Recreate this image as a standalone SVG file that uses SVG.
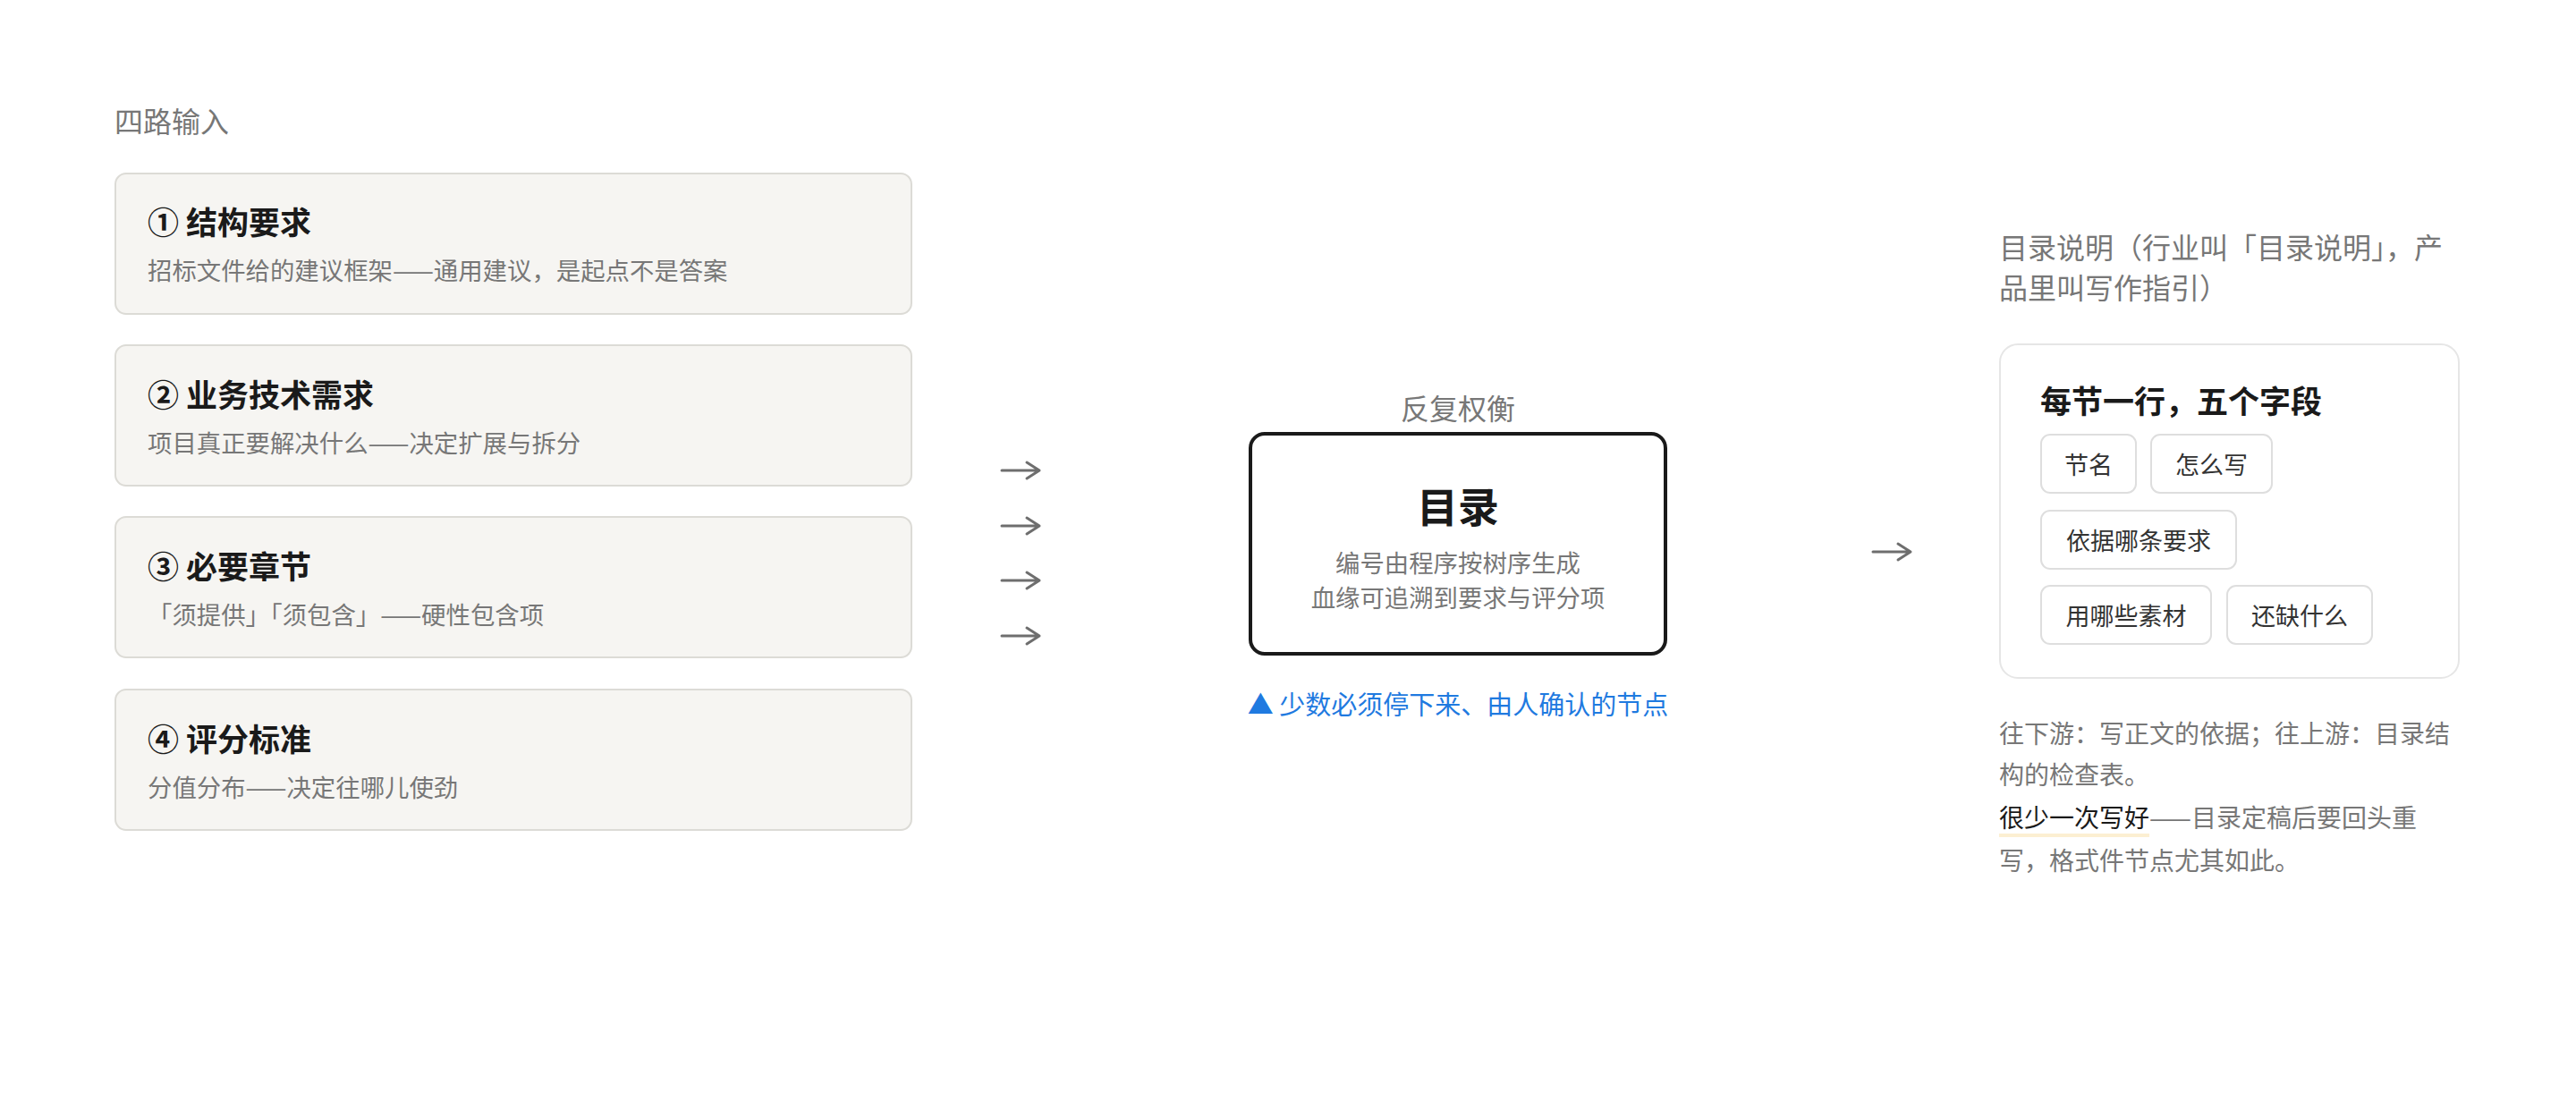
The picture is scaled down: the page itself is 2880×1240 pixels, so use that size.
<svg xmlns="http://www.w3.org/2000/svg" width="2880" height="1240" viewBox="0 0 2880 1240">
<style>
text{font-family:"Noto Sans CJK SC","Noto Sans",sans-serif;dominant-baseline:central}
.lbl{font-size:32px;fill:#777}
.inbox{fill:#f6f5f2;stroke:#dcdbd6;stroke-width:2}
.ttl{font-size:35px;font-weight:700;fill:#1a1a1a}
.sub{font-size:27.4px;fill:#777}
.tag{fill:#fff;stroke:#dedede;stroke-width:2}
.tagt{font-size:27px;fill:#333;text-anchor:middle}
.note{font-size:28px;fill:#777}
.arr{fill:none;stroke:#6e6e6e;stroke-width:3;stroke-linecap:round;stroke-linejoin:round}
</style>
<rect width="2880" height="1240" fill="#fff"/>
<text id="inputs-label" class="lbl" x="128" y="134">四路输入</text>
<g id="in1"><rect class="inbox" x="129" y="194" width="890" height="157" rx="12"/><text class="ttl" x="165" y="246">① 结构要求</text><text class="sub" x="165" y="301">招标文件给的建议框架——通用建议，是起点不是答案</text></g>
<g id="in2"><rect class="inbox" x="129" y="386" width="890" height="157" rx="12"/><text class="ttl" x="165" y="439">② 业务技术需求</text><text class="sub" x="165" y="494">项目真正要解决什么——决定扩展与拆分</text></g>
<g id="in3"><rect class="inbox" x="129" y="578" width="890" height="157" rx="12"/><text class="ttl" x="165" y="631">③ 必要章节</text><text class="sub" x="165" y="686">「须提供」「须包含」——硬性包含项</text></g>
<g id="in4"><rect class="inbox" x="129" y="771" width="890" height="157" rx="12"/><text class="ttl" x="165" y="824">④ 评分标准</text><text class="sub" x="165" y="879">分值分布——决定往哪儿使劲</text></g>
<g id="connectors">
<path class="arr" d="M1120 526H1162M1148 517L1162 526L1148 535"/>
<path class="arr" d="M1120 588H1162M1148 579L1162 588L1148 597"/>
<path class="arr" d="M1120 649H1162M1148 640L1162 649L1148 658"/>
<path class="arr" d="M1120 711H1162M1148 702L1162 711L1148 720"/>
<path class="arr" d="M2094 617H2136M2122 608L2136 617L2122 626"/>
</g>
<g id="toc">
<text class="lbl" x="1630" y="455" text-anchor="middle">反复权衡</text>
<rect x="1398" y="485" width="464" height="246" rx="16" fill="#fff" stroke="#1a1a1a" stroke-width="4"/>
<text x="1630" y="564" text-anchor="middle" style="font-size:46px;font-weight:700;fill:#1a1a1a">目录</text>
<text class="sub" x="1630" y="628" text-anchor="middle">编号由程序按树序生成</text>
<text class="sub" x="1630" y="667" text-anchor="middle">血缘可追溯到要求与评分项</text>
<text x="1630" y="786" text-anchor="middle" style="font-size:29px;fill:#1f7ae0">▲ 少数必须停下来、由人确认的节点</text>
</g>
<g id="guide">
<text class="lbl" x="2235" y="275">目录说明（行业叫「目录说明」，产</text>
<text class="lbl" x="2235" y="320">品里叫写作指引）</text>
<rect x="2236" y="385" width="513" height="373" rx="20" fill="#fff" stroke="#e6e6e6" stroke-width="2"/>
<text class="ttl" x="2281" y="446">每节一行，五个字段</text>
<rect class="tag" x="2282" y="486" width="106" height="65" rx="10"/><text class="tagt" x="2335" y="518">节名</text>
<rect class="tag" x="2405" y="486" width="135" height="65" rx="10"/><text class="tagt" x="2472.5" y="518">怎么写</text>
<rect class="tag" x="2282" y="571" width="218" height="65" rx="10"/><text class="tagt" x="2391" y="603">依据哪条要求</text>
<rect class="tag" x="2282" y="655" width="190" height="65" rx="10"/><text class="tagt" x="2377" y="687">用哪些素材</text>
<rect class="tag" x="2490" y="655" width="162" height="65" rx="10"/><text class="tagt" x="2571" y="687">还缺什么</text>
</g>
<g id="notes">
<text class="note" x="2235" y="819">往下游：写正文的依据；往上游：目录结</text>
<text class="note" x="2235" y="865">构的检查表。</text>
<rect x="2235" y="932" width="168" height="4" fill="#fcefd2"/>
<text class="note" x="2235" y="913"><tspan fill="#1a1a1a">很少一次写好</tspan>——目录定稿后要回头重</text>
<text class="note" x="2235" y="961">写，格式件节点尤其如此。</text>
</g>
</svg>
